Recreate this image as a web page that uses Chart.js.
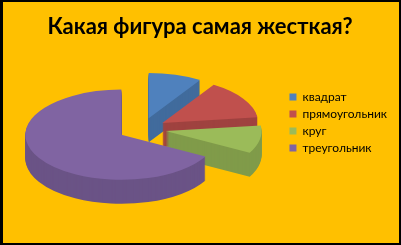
<!DOCTYPE html>
<html>
<head>
<meta charset="utf-8">
<script src="https://cdn.jsdelivr.net/npm/chart.js@4/dist/chart.umd.min.js"></script>
<style>
  html, body { margin: 0; padding: 0; background: #000; }
  #frame {
    position: absolute; left: 0; top: 0;
    width: 401px; height: 245px; box-sizing: border-box;
    border-style: solid; border-color: #000;
    border-width: 2px 2px 2px 3px;
    background: #FFC000;
  }
  canvas { display: block; }
</style>
</head>
<body>
<div id="frame"><canvas id="c" width="396" height="241"></canvas></div>
<script>
const titleText = 'Какая фигура самая жесткая?';
const categories = ['квадрат', 'прямоугольник', 'круг', 'треугольник'];
const shares = [9, 14, 10, 67];
const topColors = ['#4F81BD', '#C0504D', '#9BBB59', '#8064A2'];

// Draws the pie as a tilted, extruded disc with every slice pulled out a little.
const tiltedPie = {
  id: 'tiltedPie',
  beforeDatasetDraw(chart, args, opts) {
    const ctx = chart.ctx;
    const arcs = args.meta.data;
    const place = (arc, drop) => {
      const mid = (arc.startAngle + arc.endAngle) / 2;
      ctx.translate(opts.cx, opts.cy + drop);
      ctx.scale(1, opts.tilt);
      ctx.translate(Math.cos(mid) * opts.explode, Math.sin(mid) * opts.explode);
      ctx.translate(-arc.x, -arc.y);
    };
    // side walls: stacked darker copies
    for (let d = opts.depth; d >= 1; d--) {
      arcs.forEach(arc => {
        ctx.save();
        place(arc, d);
        ctx.filter = 'brightness(' + opts.shade + ')';
        arc.draw(ctx);
        ctx.restore();
      });
    }
    // top faces
    arcs.forEach(arc => {
      ctx.save();
      place(arc, 0);
      arc.draw(ctx);
      ctx.restore();
    });
    return false;
  }
};

new Chart(document.getElementById('c'), {
  type: 'pie',
  data: {
    labels: categories,
    datasets: [{
      data: shares,
      backgroundColor: topColors,
      borderWidth: 0
    }]
  },
  options: {
    responsive: false,
    animation: false,
    devicePixelRatio: 1,
    radius: 96,
    layout: { padding: { left: 0, right: 2, top: 0, bottom: 0 } },
    plugins: {
      tooltip: { enabled: false },
      title: {
        display: true,
        text: titleText,
        color: '#000',
        font: { family: 'Lato', size: 22, weight: 'bold' },
        padding: { top: 12, bottom: 10 }
      },
      legend: {
        position: 'right',
        labels: {
          color: '#000',
          font: { family: 'Lato', size: 12 },
          boxWidth: 7,
          boxHeight: 7,
          padding: 5
        }
      },
      tiltedPie: { cx: 139, cy: 127, tilt: 0.47, explode: 24, depth: 24, shade: 0.83 }
    }
  },
  plugins: [tiltedPie]
});
</script>
</body>
</html>
